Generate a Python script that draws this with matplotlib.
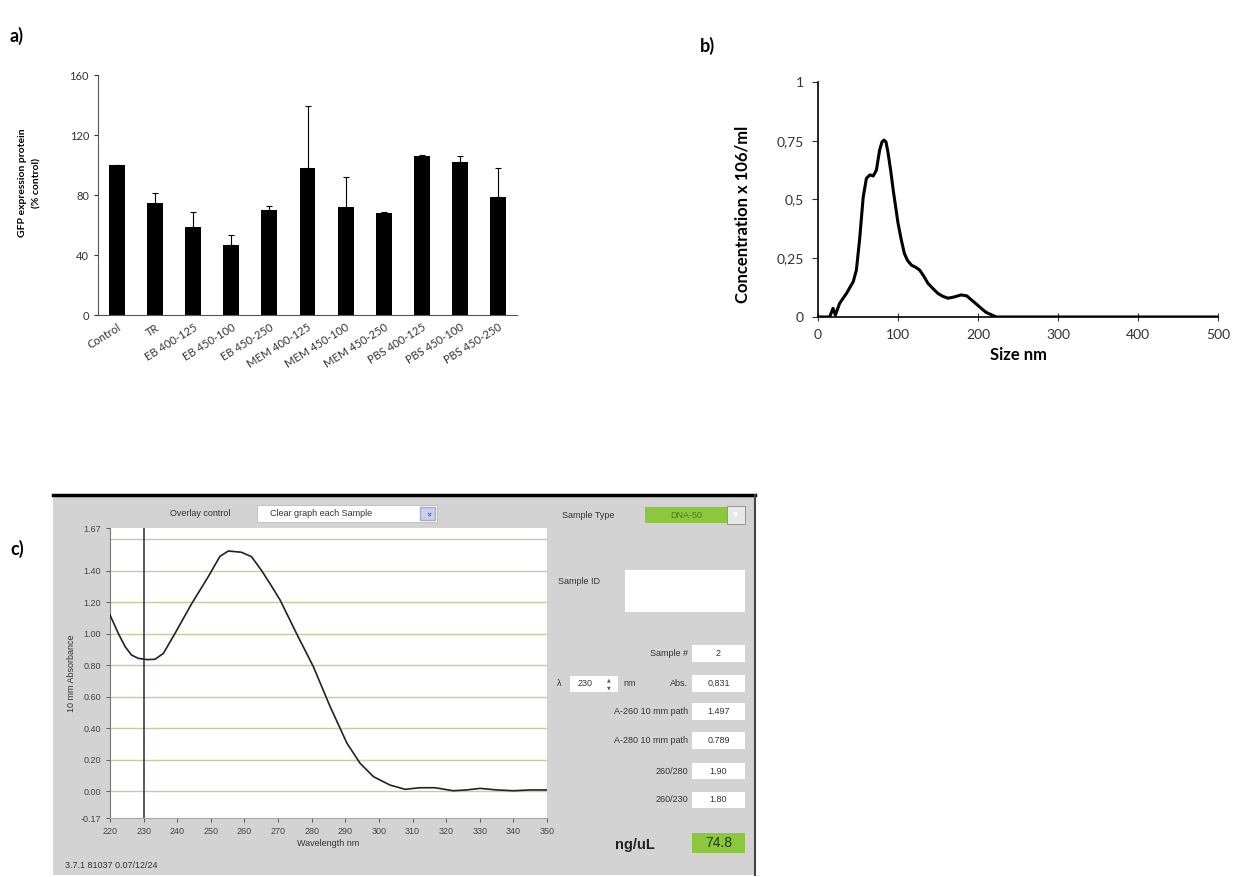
import numpy as np
import matplotlib
matplotlib.use("Agg")
import matplotlib.pyplot as plt
from matplotlib.patches import Rectangle

W, H = 1242, 877

# panel a: GFP expression
groups = ["Control", "TR", "EB 400-125", "EB 450-100", "EB 450-250", "MEM 400-125",
          "MEM 450-100", "MEM 450-250", "PBS 400-125", "PBS 450-100", "PBS 450-250"]
gfp = [100, 75, 59, 47, 70, 98, 72, 68, 106, 102, 79]
gfp_err = [0, 6.5, 9.5, 6.5, 2.5, 41.5, 20, 0.8, 0.6, 3.8, 19.3]

# panel b: size distribution
size_nm = [0, 14.6, 18.8, 21.7, 27, 35.5, 44, 48, 52, 56.5, 60.5, 65, 69, 73, 77, 80, 82.5,
           85, 87.5, 91, 94, 100, 104, 108, 112, 117, 122, 127, 132, 137.5, 144, 150, 156,
           162.5, 170, 179, 186, 192, 198, 204, 210, 217, 223, 500]
conc = [0, 0, 0.037, 0.008, 0.058, 0.10, 0.15, 0.20, 0.33, 0.51, 0.59, 0.605, 0.60, 0.625,
        0.71, 0.745, 0.753, 0.745, 0.70, 0.62, 0.54, 0.40, 0.33, 0.27, 0.24, 0.22, 0.212,
        0.20, 0.175, 0.143, 0.12, 0.10, 0.088, 0.08, 0.085, 0.094, 0.09, 0.072, 0.055,
        0.037, 0.02, 0.009, 0, 0]

# panel c: absorbance spectrum
wl = [220, 222.5, 224.5, 226.4, 228.4, 231, 233.4, 235.9, 239.3, 244.3, 249.2, 252.7, 255.2,
      259.1, 262.1, 265.1, 268.1, 270.6, 275.5, 280.5, 285.5, 290.5, 294.4, 298.4, 303.3,
      307.8, 312.2, 316.7, 322.1, 326.1, 330.1, 335.1, 340, 345, 350]
absb = [1.118, 1.00, 0.917, 0.864, 0.843, 0.835, 0.837, 0.875, 1.00, 1.19, 1.36, 1.49,
        1.524, 1.516, 1.488, 1.40, 1.30, 1.213, 1.00, 0.79, 0.536, 0.304, 0.177, 0.092,
        0.039, 0.012, 0.022, 0.022, 0.003, 0.008, 0.018, 0.008, 0.003, 0.008, 0.008]

def rect(l, t, r, b):
    return [l / W, 1 - b / H, (r - l) / W, (b - t) / H]

fig = plt.figure(figsize=(W / 100, H / 100), dpi=100)

bg = fig.add_axes([0, 0, 1, 1], zorder=0)
bg.set_xlim(0, W)
bg.set_ylim(H, 0)
bg.axis("off")

# panel labels
for s, x, y in [("a)", 10, 36), ("b)", 700, 46), ("c)", 10, 549)]:
    bg.text(x, y, s, fontsize=13, fontweight="bold", family="Lato", va="center")

# ---- panel a ----
ax = fig.add_axes(rect(98, 75, 517, 315), zorder=1)
ax.set_facecolor("none")
x = np.arange(len(groups))
ax.bar(x, gfp, width=0.42, color="black")
ax.errorbar(x, gfp, yerr=[np.zeros(len(x)), gfp_err], fmt="none", ecolor="black",
            elinewidth=0.8, capsize=2, capthick=0.8)
ax.set_xlim(-0.5, 10.5)
ax.set_ylim(0, 160)
ax.set_yticks([0, 40, 80, 120, 160])
ax.set_xticks(x)
ax.set_xticklabels(groups, rotation=32, ha="right", rotation_mode="anchor",
                   fontsize=8, family="Lato", color="#333")
ax.tick_params(axis="x", length=0, pad=5)
ax.tick_params(axis="y", labelsize=8, length=3, colors="#333")
for lab in ax.get_yticklabels():
    lab.set_family("Lato")
for s in ["top", "right"]:
    ax.spines[s].set_visible(False)
ax.spines["left"].set_color("#555")
ax.spines["bottom"].set_color("#555")
bg.text(30, 183, "GFP expression protein\n(% control)", rotation=90, fontsize=7.5,
        fontweight="bold", family="Lato", ha="center", va="center", linespacing=1.7)

# ---- panel b ----
bx = fig.add_axes(rect(818, 82, 1218, 317), zorder=1)
bx.set_facecolor("none")
bx.plot(size_nm, conc, color="black", lw=2.2, solid_joinstyle="round")
bx.set_xlim(0, 500)
bx.set_ylim(0, 1)
bx.set_xticks([0, 100, 200, 300, 400, 500])
bx.set_yticks([0, 0.25, 0.5, 0.75, 1])
bx.set_yticklabels(["0", "0,25", "0,5", "0,75", "1"])
bx.tick_params(labelsize=10, length=4, colors="#333", pad=6)
bx.tick_params(axis="x", direction="inout", length=6)
for lab in bx.get_xticklabels() + bx.get_yticklabels():
    lab.set_family("Lato")
for s in ["top", "right"]:
    bx.spines[s].set_visible(False)
bx.spines["left"].set_linewidth(1.2)
bx.spines["bottom"].set_linewidth(1.2)
bx.set_xlabel("Size nm", fontsize=12, fontweight="bold", family="Lato", labelpad=4)
bg.text(742, 214, "Concentration x 106/ml", rotation=90, fontsize=12, fontweight="bold",
        family="Lato", ha="center", va="center")

# ---- panel c: instrument screenshot ----
gray = "#d3d3d3"
bg.add_patch(Rectangle((53, 495), 702, 380, facecolor=gray, edgecolor="none"))
bg.plot([53, 755], [495, 495], color="black", lw=2.5)
bg.plot([755, 755], [495, 875], color="#444", lw=1.5)

ui = dict(family="Liberation Sans", fontsize=6.5, color="#333", va="center")
bg.text(170, 513, "Overlay control", **ui)
bg.add_patch(Rectangle((257, 505), 180, 17, facecolor="white", edgecolor="#bbb", lw=0.6))
bg.text(270, 513.5, "Clear graph each Sample", **ui)
bg.add_patch(Rectangle((420, 507), 15, 13, facecolor="#c8cff0", edgecolor="#aab"))
bg.text(427.5, 513.5, "\u00bb", ha="center", va="center", fontsize=6, color="#446",
        rotation=-90)

# right side controls
green = "#8dc63f"
bg.text(562, 516, "Sample Type", **ui)
bg.add_patch(Rectangle((645, 507), 82, 16, facecolor=green, edgecolor="none"))
bg.text(686, 515, "DNA-50", ha="center", va="center", family="Liberation Sans",
        fontsize=6.5, color="#4a7a1a")
bg.add_patch(Rectangle((727, 506), 18, 18, facecolor="#e8e8e8", edgecolor="#888", lw=0.6))
bg.text(736, 515, "\u25bc", ha="center", va="center", fontsize=5, color="white")

bg.text(558, 581, "Sample ID", **ui)
bg.add_patch(Rectangle((625, 570), 120, 42, facecolor="white", edgecolor="none"))

fields = [("Sample #", "2", 645, 662), ("Abs.", "0,831", 675, 692),
          ("A-260 10 mm path", "1.497", 703, 720), ("A-280 10 mm path", "0.789", 732, 749),
          ("260/280", "1.90", 763, 779), ("260/230", "1.80", 792, 808)]
for lab, val, t, b in fields:
    bg.add_patch(Rectangle((692, t), 53, b - t, facecolor="white", edgecolor="none"))
    bg.text(718.5, (t + b) / 2, val, ha="center", **ui)
    bg.text(688, (t + b) / 2, lab, ha="right", **ui)

bg.text(557, 683.5, "\u03bb", **ui)
bg.add_patch(Rectangle((569, 675), 49, 17, facecolor="white", edgecolor="#ccd", lw=0.6))
bg.text(578, 683.5, "230", **ui)
bg.text(609, 680, "\u25b2", ha="center", va="center", fontsize=3.5, color="#557")
bg.text(609, 688, "\u25bc", ha="center", va="center", fontsize=3.5, color="#557")
bg.text(623, 683.5, "nm", **ui)

bg.text(615, 845, "ng/uL", family="Liberation Sans", fontsize=10.5, fontweight="bold",
        color="#222", va="center")
bg.add_patch(Rectangle((692, 833), 53, 20, facecolor=green, edgecolor="none"))
bg.text(718.5, 843, "74.8", ha="center", va="center", family="Liberation Sans",
        fontsize=10, color="#1d3d0a")

bg.text(65, 865, "3.7.1 81037 0.07/12/24", **ui)

cx = fig.add_axes(rect(110, 528, 547, 818), zorder=1)
cx.set_facecolor("white")
cx.set_xlim(220, 350)
cx.set_ylim(-0.17, 1.67)
for g in np.arange(0, 1.61, 0.2):
    cx.axhline(g, color="#c9c9a2", lw=1, zorder=1)
cx.axvline(230, color="#3a3a5a", lw=1.2, zorder=2)
cx.plot(wl, absb, color="#222", lw=1.2, zorder=3, solid_joinstyle="round")
cx.set_xticks(np.arange(220, 351, 10))
yt = [-0.17, 0, 0.2, 0.4, 0.6, 0.8, 1.0, 1.2, 1.4, 1.67]
cx.set_yticks(yt)
cx.set_yticklabels(["%.2f" % v for v in yt])
cx.tick_params(labelsize=6.5, colors="#444", length=3, width=0.6)
for lab in cx.get_xticklabels() + cx.get_yticklabels():
    lab.set_family("Liberation Sans")
for s in ["top", "right"]:
    cx.spines[s].set_visible(False)
cx.spines["left"].set_color("#777")
cx.spines["bottom"].set_color("#aaa")
cx.set_xlabel("Wavelength nm", fontsize=6.5, family="Liberation Sans", color="#333",
              labelpad=2)
cx.set_ylabel("10 mm Absorbance", fontsize=6.5, family="Liberation Sans", color="#333",
              labelpad=3)

fig.savefig("out.png", dpi=100)
